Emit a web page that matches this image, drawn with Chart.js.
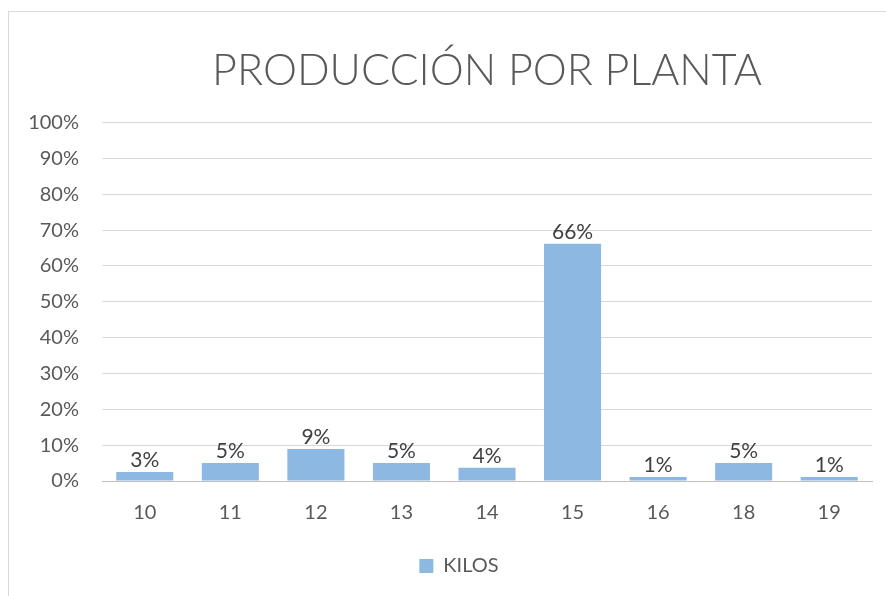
<!DOCTYPE html>
<html lang="es">
<head>
  <meta charset="UTF-8" />
  <title>Producción por planta</title>
  <script src="https://cdn.jsdelivr.net/npm/chart.js@4"></script>
  <style>
    body, html { margin: 0; padding: 0; background: #fff; overflow: hidden; }
    #frame { position: absolute; left: 8px; top: 11px; width: 900px; height: 600px; border: 1px solid #d9d9d9; }
    #wrap { position: absolute; left: 0; top: 0; width: 894px; height: 596px; }
  </style>
</head>
<body>
  <div id="frame"></div>
  <div id="wrap"><canvas id="chart"></canvas></div>

  <script>
    // datos (porcentaje)
    const plantas = ['10', '11', '12', '13', '14', '15', '16', '18', '19'];
    const kilos = [2.5, 5.0, 8.9, 5.0, 3.7, 66.2, 1.1, 5.0, 1.1];
    const yTicks = [0, 10, 20, 30, 40, 50, 60, 70, 80, 90, 100];

    const gris = '#595959';

    // etiquetas encima de cada barra
    const etiquetas = {
      id: 'etiquetas',
      afterDatasetsDraw(chart) {
        const ctx = chart.ctx;
        const meta = chart.getDatasetMeta(0);
        ctx.save();
        ctx.font = '21px Lato';
        ctx.fillStyle = '#404040';
        ctx.textAlign = 'center';
        ctx.textBaseline = 'alphabetic';
        meta.data.forEach((bar, i) => {
          const v = chart.data.datasets[0].data[i];
          ctx.fillText(Math.round(v) + '%', bar.x, bar.y - 5);
        });
        ctx.restore();
      }
    };

    new Chart(document.getElementById('chart'), {
      type: 'bar',
      data: {
        labels: plantas,
        datasets: [{
          label: 'KILOS',
          data: kilos,
          backgroundColor: '#8db8e2',
          borderWidth: 0,
          barPercentage: 0.667,
          categoryPercentage: 1
        }]
      },
      options: {
        responsive: true,
        maintainAspectRatio: false,
        animation: false,
        layout: { padding: { left: 24, right: 0, top: 0, bottom: 10 } },
        plugins: {
          title: {
            display: true,
            text: 'PRODUCCIÓN POR PLANTA',
            color: gris,
            fullSize: false,
            font: { family: 'Lato', size: 43, weight: 300, lineHeight: 1.2 },
            padding: { top: 45, bottom: 26 }
          },
          legend: {
            position: 'bottom',
            labels: {
              color: gris,
              font: { family: 'Lato', size: 20 },
              boxWidth: 14,
              boxHeight: 14,
              padding: 10
            }
          },
          tooltip: { enabled: false }
        },
        scales: {
          x: {
            grid: { display: false },
            border: { display: true, color: '#bfbfbf' },
            ticks: { color: gris, font: { family: 'Lato', size: 20 }, padding: 12 },
            afterFit(scale) { scale.height = 65; }
          },
          y: {
            min: 0,
            max: 100,
            afterBuildTicks(scale) { scale.ticks = yTicks.map(v => ({ value: v })); },
            grid: {
              drawTicks: false,
              color: c => c.tick && c.tick.value === 0 ? '#bfbfbf' : '#d9d9d9'
            },
            border: { display: false },
            ticks: {
              color: gris,
              font: { family: 'Lato', size: 20 },
              padding: 23,
              callback: v => v + '%'
            },
            afterFit(scale) { scale.width = 78; }
          },
          // margen derecho vacío
          y2: {
            type: 'linear',
            position: 'right',
            grid: { display: false },
            border: { display: false },
            ticks: { display: false },
            afterFit(scale) { scale.width = 22; }
          }
        }
      },
      plugins: [etiquetas]
    });
  </script>
</body>
</html>
